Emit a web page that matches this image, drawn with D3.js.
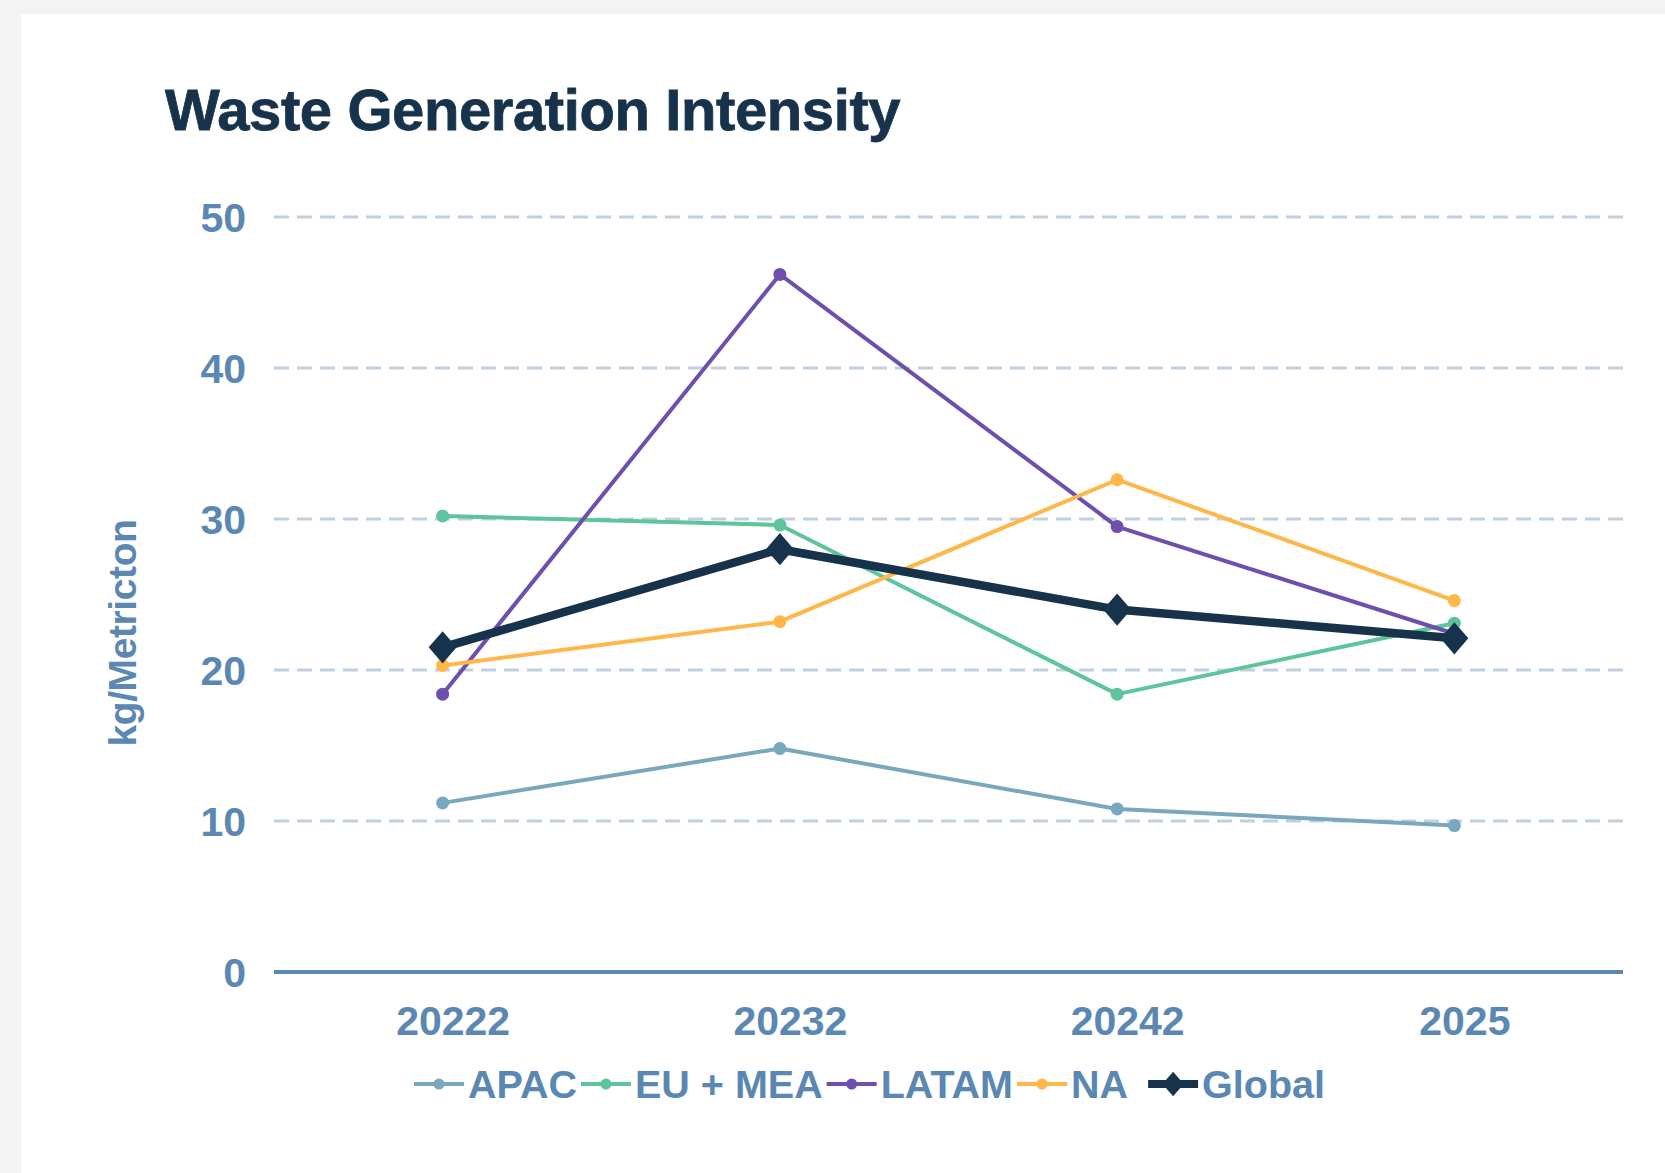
<!DOCTYPE html>
<html>
<head>
<meta charset="utf-8">
<script src="https://cdn.jsdelivr.net/npm/d3@7"></script>
<style>
  html, body { margin: 0; padding: 0; background: #f4f4f4; }
  svg { display: block; }
  text { font-family: "Liberation Sans", Arial, sans-serif; font-weight: bold; }
</style>
</head>
<body>
<svg id="chart" width="1665" height="1173"></svg>
<script>
// Years along the x axis and their labels
const categories = ["20222", "20232", "20242", "2025"];

// Waste generation intensity, kg per metric ton
const apac      = [11.2, 14.8, 10.8, 9.7];
const euMea     = [30.2, 29.6, 18.4, 23.1];
const latam     = [18.4, 46.2, 29.5, 22.4];
const na        = [20.3, 23.2, 32.6, 24.6];
const globalAvg = [21.5, 28.0, 24.0, 22.1];

const seriesNames = ["APAC", "EU + MEA", "LATAM", "NA", "Global"];
const yTicks = [0, 10, 20, 30, 40, 50];

const colors = {
  "APAC": "#79a7bd",
  "EU + MEA": "#5dc49b",
  "LATAM": "#6e4fae",
  "NA": "#ffb74a",
  "Global": "#17324b"
};
const axisBlue = "#5b87b3";

const series = [
  { name: "APAC", values: apac },
  { name: "EU + MEA", values: euMea },
  { name: "LATAM", values: latam },
  { name: "NA", values: na },
  { name: "Global", values: globalAvg }
];

const svg = d3.select("#chart");

// white card
svg.append("rect")
  .attr("x", 21).attr("y", 14)
  .attr("width", 1700).attr("height", 1200)
  .attr("fill", "#ffffff");

// title
svg.append("text")
  .attr("x", 165).attr("y", 130)
  .attr("font-size", 58)
  .attr("letter-spacing", "-0.4px")
  .attr("fill", "#17324b")
  .attr("stroke", "#17324b")
  .attr("stroke-width", 0.8)
  .text("Waste Generation Intensity");

const plot = { left: 274, right: 1623, top: 217, bottom: 972 };

const x = d3.scalePoint()
  .domain(categories)
  .range([plot.left, plot.right])
  .padding(0.5);

const y = d3.scaleLinear()
  .domain([0, 50])
  .range([plot.bottom, plot.top]);

// horizontal gridlines
svg.append("g")
  .selectAll("line")
  .data(yTicks.filter(d => d > 0))
  .join("line")
  .attr("x1", plot.left).attr("x2", plot.right)
  .attr("y1", d => y(d)).attr("y2", d => y(d))
  .attr("stroke", "#bfd0e1")
  .attr("stroke-width", 3.2)
  .attr("stroke-dasharray", "15,8");

// baseline
svg.append("line")
  .attr("x1", plot.left).attr("x2", plot.right)
  .attr("y1", y(0)).attr("y2", y(0))
  .attr("stroke", axisBlue)
  .attr("stroke-width", 4);

// y axis tick labels
const yAxis = svg.append("g")
  .attr("transform", `translate(${plot.left - 28},0)`)
  .call(d3.axisLeft(y).tickValues(yTicks).tickSize(0).tickPadding(0));
yAxis.select(".domain").remove();
yAxis.selectAll("text")
  .attr("font-size", 41)
  .attr("font-family", "'Liberation Sans', Arial, sans-serif")
  .attr("font-weight", "bold")
  .attr("fill", axisBlue)
  .attr("dy", "0.36em");

// x axis tick labels
const xAxis = svg.append("g")
  .attr("transform", `translate(10,${plot.bottom + 34})`)
  .call(d3.axisBottom(x).tickSize(0).tickPadding(0));
xAxis.select(".domain").remove();
xAxis.selectAll("text")
  .attr("font-size", 41)
  .attr("font-family", "'Liberation Sans', Arial, sans-serif")
  .attr("font-weight", "bold")
  .attr("fill", axisBlue)
  .attr("dy", "0.71em");

// y axis title
svg.append("text")
  .attr("transform", "translate(136,633) rotate(-90)")
  .attr("text-anchor", "middle")
  .attr("font-size", 39)
  .attr("letter-spacing", "-0.4px")
  .attr("fill", axisBlue)
  .text("kg/Metricton");

// diamond marker for the global series
const diamond = {
  draw(ctx, size) {
    const w = Math.sqrt(size) * 0.52;
    const h = Math.sqrt(size) * 0.6;
    ctx.moveTo(0, -h);
    ctx.lineTo(w, 0);
    ctx.lineTo(0, h);
    ctx.lineTo(-w, 0);
    ctx.closePath();
  }
};

const line = d3.line()
  .x((d, i) => x(categories[i]))
  .y(d => y(d));

const lines = svg.append("g");
series.forEach(s => {
  const isGlobal = s.name === "Global";
  const g = lines.append("g");
  g.append("path")
    .datum(s.values)
    .attr("d", line)
    .attr("fill", "none")
    .attr("stroke", colors[s.name])
    .attr("stroke-width", isGlobal ? 8.5 : 4)
    .attr("stroke-linejoin", "round");
  if (isGlobal) {
    g.selectAll("path.pt")
      .data(s.values)
      .join("path")
      .attr("class", "pt")
      .attr("transform", (d, i) => `translate(${x(categories[i])},${y(d)})`)
      .attr("d", d3.symbol(diamond, 720))
      .attr("fill", colors[s.name]);
  } else {
    g.selectAll("circle")
      .data(s.values)
      .join("circle")
      .attr("cx", (d, i) => x(categories[i]))
      .attr("cy", d => y(d))
      .attr("r", 6.5)
      .attr("fill", colors[s.name]);
  }
});

// legend
const legend = svg.append("g").attr("transform", "translate(414,1084)");
let lx = 0;
seriesNames.forEach(name => {
  const isGlobal = name === "Global";
  if (isGlobal) lx += 16;
  const item = legend.append("g").attr("transform", `translate(${lx},0)`);
  item.append("line")
    .attr("x1", 0).attr("x2", 50)
    .attr("y1", 0).attr("y2", 0)
    .attr("stroke", colors[name])
    .attr("stroke-width", isGlobal ? 8 : 4);
  if (isGlobal) {
    item.append("path")
      .attr("transform", "translate(25,0)")
      .attr("d", d3.symbol(diamond, 420))
      .attr("fill", colors[name]);
  } else {
    item.append("circle")
      .attr("cx", 25).attr("cy", 0).attr("r", 5.5)
      .attr("fill", colors[name]);
  }
  const t = item.append("text")
    .attr("x", 54).attr("y", 14)
    .attr("font-size", 39.5)
    .attr("fill", axisBlue)
    .text(name);
  lx += 54 + t.node().getComputedTextLength() + 4;
});
</script>
</body>
</html>
